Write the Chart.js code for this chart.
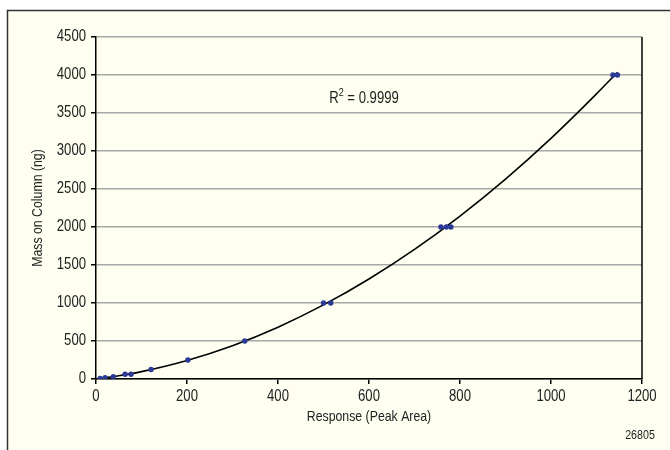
<!DOCTYPE html>
<html>
<head>
<meta charset="utf-8">
<script src="https://cdn.jsdelivr.net/npm/chart.js@4.4.0/dist/chart.umd.min.js"></script>
<style>
html,body{margin:0;padding:0;background:#ffffff;}
#wrap{width:670px;height:450px;position:relative;}
</style>
</head>
<body>
<div id="wrap"><canvas id="c" width="670" height="450"></canvas></div>
<script>
// Calibration points
const responses = [9, 20, 38, 64, 77, 121, 202, 327, 500, 516, 758, 770, 780, 1136, 1146];
const masses    = [7.8, 15.6, 31.3, 62.5, 62.5, 125, 250, 500, 1000, 1000, 2000, 2000, 2000, 4000, 4000];
// Trend curve
const trendX = [0, 50, 100, 200, 300, 400, 500, 600, 700, 800, 900, 1000, 1100, 1146];
const trendY = [0, 43, 97, 244, 438, 682, 975, 1316, 1705, 2144, 2631, 3167, 3752, 4035];
// Axis ticks
const xTicks = [0, 200, 400, 600, 800, 1000, 1200];
const yTicks = [0, 500, 1000, 1500, 2000, 2500, 3000, 3500, 4000, 4500];
const xTitle = 'Response (Peak Area)';
const yTitle = 'Mass on Column (ng)';
const r2Text = '0.9999';
const figId = '26805';

const FONT = '"Liberation Sans", Arial, sans-serif';
const NARROW = 0.82;

const pointsData = responses.map((x, i) => ({x: x, y: masses[i]}));
const trendData = trendX.map((x, i) => ({x: x, y: trendY[i]}));

function narrowText(ctx, text, x, y, size, align, baseline) {
  ctx.save();
  ctx.font = size + 'px ' + FONT;
  ctx.textBaseline = baseline || 'middle';
  ctx.textAlign = 'left';
  const w = ctx.measureText(text).width * NARROW;
  let left = x;
  if (align === 'center') left = x - w / 2;
  else if (align === 'right') left = x - w;
  ctx.translate(left, y);
  ctx.scale(NARROW, 1);
  ctx.fillText(text, 0, 0);
  ctx.restore();
  return w;
}
function narrowWidth(ctx, text, size) {
  ctx.save();
  ctx.font = size + 'px ' + FONT;
  const w = ctx.measureText(text).width * NARROW;
  ctx.restore();
  return w;
}

const decor = {
  id: 'decor',
  beforeDraw(chart) {
    const ctx = chart.ctx;
    ctx.save();
    ctx.fillStyle = '#ffffff';
    ctx.fillRect(0, 0, chart.width, chart.height);
    ctx.fillStyle = '#fefef1';
    ctx.fillRect(7, 10, chart.width, chart.height);
    ctx.strokeStyle = '#333333';
    ctx.lineWidth = 1.5;
    ctx.strokeRect(7.5, 10.5, chart.width + 20, chart.height + 20);
    ctx.restore();
  },
  afterDraw(chart) {
    const ctx = chart.ctx;
    const a = chart.chartArea;
    const xs = chart.scales.x, ys = chart.scales.y;
    ctx.save();
    // right border of plot area
    ctx.strokeStyle = '#000000';
    ctx.lineWidth = 1.5;
    ctx.beginPath();
    ctx.moveTo(a.right, a.top);
    ctx.lineTo(a.right, a.bottom);
    ctx.stroke();
    ctx.fillStyle = '#222222';
    // tick labels
    xTicks.forEach(v => narrowText(ctx, String(v), xs.getPixelForValue(v), a.bottom + 18, 16, 'center'));
    yTicks.forEach(v => narrowText(ctx, String(v), 86, ys.getPixelForValue(v), 16, 'right'));
    // axis titles
    narrowText(ctx, xTitle, (a.left + a.right) / 2, 417, 15, 'center');
    ctx.save();
    ctx.translate(38, (a.top + a.bottom) / 2);
    ctx.rotate(-Math.PI / 2);
    narrowText(ctx, yTitle, 0, 0, 15, 'center');
    ctx.restore();
    // R^2 label
    const rest = ' = ' + r2Text;
    const wR = narrowWidth(ctx, 'R', 16);
    const w2 = narrowWidth(ctx, '2', 11);
    const wRest = narrowWidth(ctx, rest, 16);
    const x0 = 364 - (wR + w2 + wRest) / 2;
    narrowText(ctx, 'R', x0, 99, 16, 'left');
    narrowText(ctx, '2', x0 + wR, 93, 11, 'left');
    narrowText(ctx, rest, x0 + wR + w2, 99, 16, 'left');
    // figure id
    narrowText(ctx, figId, 640, 435, 13, 'center');
    ctx.restore();
  }
};

new Chart(document.getElementById('c'), {
  type: 'scatter',
  data: {
    datasets: [
      {
        label: 'trend',
        data: trendData,
        showLine: true,
        borderColor: '#000000',
        borderWidth: 1.6,
        pointRadius: 0,
        tension: 0.4,
        cubicInterpolationMode: 'monotone',
        order: 2
      },
      {
        label: 'points',
        data: pointsData,
        showLine: false,
        pointStyle: 'circle',
        pointRadius: 2.7,
        backgroundColor: '#2b3a96',
        borderColor: '#2b3a96',
        borderWidth: 0,
        order: 1
      }
    ]
  },
  options: {
    responsive: false,
    animation: false,
    events: [],
    layout: {padding: {left: 0, right: 28, top: 37, bottom: 0}},
    plugins: {legend: {display: false}, tooltip: {enabled: false}},
    scales: {
      x: {
        type: 'linear',
        min: 0, max: 1200,
        afterBuildTicks: s => { s.ticks = xTicks.map(v => ({value: v})); },
        afterFit: s => { s.height = 71; },
        border: {display: true, color: '#000000', width: 1.5},
        grid: {drawOnChartArea: false, drawTicks: true, tickLength: 5, tickColor: '#000000', lineWidth: 1.5},
        ticks: {display: false}
      },
      y: {
        type: 'linear',
        min: 0, max: 4500,
        afterBuildTicks: s => { s.ticks = yTicks.map(v => ({value: v})); },
        afterFit: s => { s.width = 96; },
        border: {display: true, color: '#000000', width: 1.5},
        grid: {color: '#a8a8a8', lineWidth: 1.5, drawTicks: true, tickLength: 5, tickColor: '#000000'},
        ticks: {display: false}
      }
    }
  },
  plugins: [decor]
});
</script>
</body>
</html>
